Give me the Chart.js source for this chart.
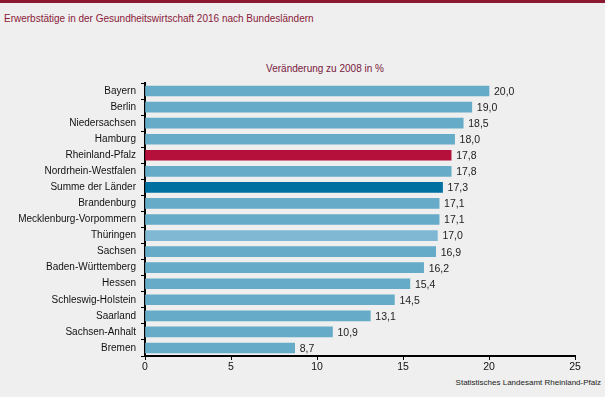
<!DOCTYPE html>
<html>
<head>
<meta charset="utf-8">
<script src="https://cdn.jsdelivr.net/npm/chart.js@4.4.1/dist/chart.umd.min.js"></script>
<style>
  html, body { margin: 0; padding: 0; }
  body { width: 605px; height: 397px; background: #eeefee; position: relative; overflow: hidden;
         font-family: "Liberation Sans", Arial, sans-serif; }
  #topline { position: absolute; left: 0; top: 0; width: 605px; height: 3px; background: #8b1a30; }
  #title { position: absolute; left: 4px; top: 13px; font-size: 10px; color: #8b1a3a; white-space: nowrap; }
  #subtitle { position: absolute; left: 0; width: 650px; top: 63px; text-align: center; font-size: 10px; color: #7a2040; }
  #source { position: absolute; right: 4px; top: 378px; font-size: 8px; color: #222; }
  #wrap { position: absolute; left: 0; top: 0; width: 605px; height: 397px; }
</style>
</head>
<body>
<div id="topline"></div>
<div id="title">Erwerbstätige in der Gesundheitswirtschaft 2016 nach Bundesländern</div>
<div id="subtitle">Veränderung zu 2008 in %</div>
<div id="source">Statistisches Landesamt Rheinland-Pfalz</div>
<div id="wrap"><canvas id="chart" width="605" height="397"></canvas></div>
<script>
const laender = ['Bayern', 'Berlin', 'Niedersachsen', 'Hamburg', 'Rheinland-Pfalz', 'Nordrhein-Westfalen',
  'Summe der Länder', 'Brandenburg', 'Mecklenburg-Vorpommern', 'Thüringen', 'Sachsen',
  'Baden-Württemberg', 'Hessen', 'Schleswig-Holstein', 'Saarland', 'Sachsen-Anhalt', 'Bremen'];
const veraenderung = [20.0, 19.0, 18.5, 18.0, 17.8, 17.8, 17.3, 17.1, 17.1, 17.0, 16.9, 16.2, 15.4, 14.5, 13.1, 10.9, 8.7];
const xTicks = [0, 5, 10, 15, 20, 25];

const barColors = laender.map(function (l) {
  if (l === 'Rheinland-Pfalz') return '#b5103c';
  if (l === 'Summe der Länder') return '#0070a0';
  if (l === 'Thüringen') return '#80b8d4';
  return '#66abc8';
});

const valueLabels = {
  id: 'valueLabels',
  afterDatasetsDraw(chart) {
    const ctx = chart.ctx;
    const meta = chart.getDatasetMeta(0);
    ctx.save();
    ctx.font = '10.5px "Liberation Sans", Arial, sans-serif';
    ctx.fillStyle = '#222';
    ctx.textAlign = 'left';
    ctx.textBaseline = 'middle';
    meta.data.forEach(function (bar, i) {
      ctx.fillText(veraenderung[i].toFixed(1).replace('.', ','), bar.x + 5, bar.y + 1);
    });
    ctx.restore();
  }
};

new Chart(document.getElementById('chart'), {
  type: 'bar',
  data: {
    labels: laender,
    datasets: [{
      data: veraenderung,
      backgroundColor: barColors,
      barThickness: 10
    }]
  },
  options: {
    indexAxis: 'y',
    responsive: false,
    animation: false,
    layout: { padding: { left: 0, right: 30, top: 83, bottom: 21 } },
    plugins: { legend: { display: false }, tooltip: { enabled: false } },
    scales: {
      x: {
        min: 0, max: 25,
        afterBuildTicks(axis) { axis.ticks = xTicks.map(v => ({ value: v })); },
        afterFit(axis) { axis.height = 20; },
        border: { color: '#000', width: 2 },
        grid: { drawOnChartArea: false, color: '#000', tickLength: 4, lineWidth: 1 },
        ticks: { color: '#111', padding: 1, font: { size: 10.5, family: '"Liberation Sans", Arial, sans-serif' } }
      },
      y: {
        afterFit(axis) { axis.width = 145; },
        border: { color: '#000', width: 2 },
        grid: { drawOnChartArea: false, color: '#000', tickLength: 4, lineWidth: 1, offset: true },
        ticks: { color: '#111', padding: 5, autoSkip: false, font: { size: 10, family: '"Liberation Sans", Arial, sans-serif' } }
      }
    }
  },
  plugins: [valueLabels]
});
</script>
</body>
</html>
